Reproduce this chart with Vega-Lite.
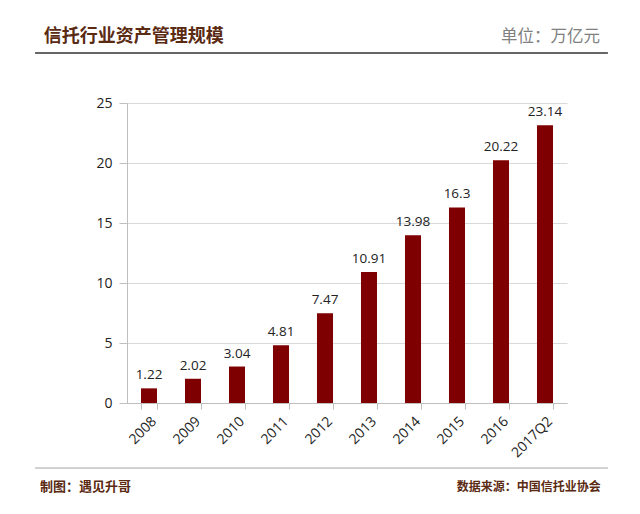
{
  "$schema": "https://vega.github.io/schema/vega-lite/v6.json",
  "width": 440,
  "height": 300,
  "autosize": {"type": "none"},
  "padding": {"left": 127, "top": 103, "right": 73, "bottom": 111},
  "background": "white",
  "config": {"view": {"stroke": null}, "font": "Open Sans"},
  "data": {"values": [
    {"year": "2008", "value": 1.22},
    {"year": "2009", "value": 2.02},
    {"year": "2010", "value": 3.04},
    {"year": "2011", "value": 4.81},
    {"year": "2012", "value": 7.47},
    {"year": "2013", "value": 10.91},
    {"year": "2014", "value": 13.98},
    {"year": "2015", "value": 16.3},
    {"year": "2016", "value": 20.22},
    {"year": "2017Q2", "value": 23.14}
  ]},
  "resolve": {"scale": {"x": "independent"}, "axis": {"x": "independent"}},
  "layer": [
    {
      "layer": [
        {"mark": {"type": "bar", "color": "#7f0000"}},
        {"mark": {"type": "text", "baseline": "alphabetic", "dy": -9, "fontSize": 13.5, "color": "#222"},
         "encoding": {"text": {"field": "value", "type": "quantitative"}}}
      ],
      "encoding": {
        "x": {"field": "year", "type": "nominal", "sort": null,
              "scale": {"paddingInner": 0.636, "paddingOuter": 0.318},
              "axis": {"title": null, "labelAngle": -45, "tickBand": "extent", "domainColor": "#bfbfbf", "tickColor": "#bfbfbf", "tickSize": 6, "labelFontSize": 14, "labelColor": "#222", "labelPadding": 5}},
        "y": {"field": "value", "type": "quantitative",
              "scale": {"domain": [0, 25], "nice": false},
              "axis": {"title": null, "values": [0, 5, 10, 15, 20, 25], "gridColor": "#d9d9d9", "domainColor": "#bfbfbf", "tickColor": "#bfbfbf", "tickSize": 8, "labelFontSize": 14, "labelColor": "#222", "labelPadding": 7}}
      }
    },
    {
      "data": {"values": [{}]},
      "mark": {"type": "rule", "color": "#333333", "strokeWidth": 1.5},
      "encoding": {
        "x": {"datum": -0.209, "type": "quantitative", "scale": {"domain": [0, 1], "nice": false, "zero": false}, "axis": null},
        "x2": {"datum": 1.093},
        "y": {"datum": 29.17, "type": "quantitative"}
      }
    },
    {
      "data": {"values": [{}]},
      "mark": {"type": "rule", "color": "#a6a6a6", "strokeWidth": 1},
      "encoding": {
        "x": {"datum": -0.209, "type": "quantitative", "scale": {"domain": [0, 1], "nice": false, "zero": false}, "axis": null},
        "x2": {"datum": 1.093},
        "y": {"datum": -5.42, "type": "quantitative"}
      }
    },
    {
      "data": {"values": [{}]},
      "mark": {"type": "text", "align": "left", "baseline": "middle", "font": "Noto Sans CJK SC", "fontSize": 18, "fontWeight": "bold", "color": "#5a2a12"},
      "encoding": {
        "x": {"datum": -0.189, "type": "quantitative", "scale": {"domain": [0, 1], "nice": false, "zero": false}, "axis": null},
        "y": {"datum": 30.5, "type": "quantitative"},
        "text": {"value": "信托行业资产管理规模"}
      }
    },
    {
      "data": {"values": [{}]},
      "mark": {"type": "text", "align": "right", "baseline": "middle", "font": "Noto Sans CJK SC", "fontSize": 16.5, "color": "#808080"},
      "encoding": {
        "x": {"datum": 1.075, "type": "quantitative", "scale": {"domain": [0, 1], "nice": false, "zero": false}, "axis": null},
        "y": {"datum": 30.5, "type": "quantitative"},
        "text": {"value": "单位：万亿元"}
      }
    },
    {
      "data": {"values": [{}]},
      "mark": {"type": "text", "align": "left", "baseline": "middle", "font": "Noto Sans CJK SC", "fontSize": 13, "fontWeight": "bold", "color": "#5a2a12"},
      "encoding": {
        "x": {"datum": -0.198, "type": "quantitative", "scale": {"domain": [0, 1], "nice": false, "zero": false}, "axis": null},
        "y": {"datum": -7.0, "type": "quantitative"},
        "text": {"value": "制图：遇见升哥"}
      }
    },
    {
      "data": {"values": [{}]},
      "mark": {"type": "text", "align": "right", "baseline": "middle", "font": "Noto Sans CJK SC", "fontSize": 12, "fontWeight": "bold", "color": "#5a2a12"},
      "encoding": {
        "x": {"datum": 1.077, "type": "quantitative", "scale": {"domain": [0, 1], "nice": false, "zero": false}, "axis": null},
        "y": {"datum": -7.0, "type": "quantitative"},
        "text": {"value": "数据来源：中国信托业协会"}
      }
    }
  ]
}
